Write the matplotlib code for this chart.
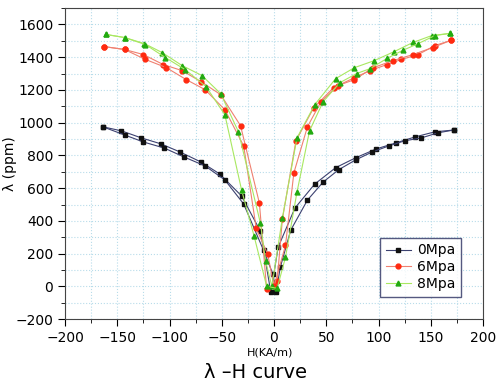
import matplotlib
matplotlib.use("Agg")
import matplotlib.pyplot as plt
from matplotlib.ticker import MultipleLocator

# 0 MPa loop (two branches)
h0_a = [-164, -146, -127, -108, -90, -70, -52, -31, -13, -3, 4, 20, 39, 59, 78, 98, 117, 135, 154, 172]
l0_a = [975, 950, 907, 870, 821, 760, 687, 552, 337, -37, 240, 478, 625, 725, 785, 840, 877, 913, 944, 955]
h0_b = [-164, -143, -125, -105, -86, -66, -47, -29, -10, -1, 2, 6, 16, 32, 47, 62, 78, 94, 110, 125, 141, 157, 172]
l0_b = [975, 925, 882, 845, 790, 736, 650, 503, 220, 74, -37, 116, 343, 527, 637, 713, 772, 821, 858, 889, 907, 938, 955]

# 6 MPa loop
h6_a = [-163, -143, -125, -106, -88, -70, -51, -32, -14, -7, 3, 8, 21, 38, 57, 77, 92, 108, 122, 138, 154, 169]
l6_a = [1465, 1447, 1416, 1355, 1318, 1251, 1171, 981, 509, -18, 30, 410, 889, 1091, 1214, 1275, 1318, 1355, 1386, 1416, 1471, 1502]
h6_b = [-163, -143, -123, -103, -84, -66, -47, -29, -17, -6, 0, 11, 19, 32, 45, 61, 77, 95, 114, 133, 152, 169]
l6_b = [1465, 1447, 1386, 1336, 1263, 1202, 1079, 858, 355, 196, 0, 251, 693, 975, 1128, 1226, 1263, 1336, 1379, 1416, 1459, 1502]

# 8 MPa loop
h8_a = [-161, -143, -124, -107, -88, -69, -51, -34, -13, -8, -2, 8, 22, 39, 59, 77, 96, 115, 133, 151, 168]
l8_a = [1539, 1520, 1483, 1428, 1349, 1288, 1177, 944, 386, 153, 0, 417, 907, 1110, 1269, 1336, 1379, 1434, 1490, 1532, 1545]
h8_b = [-161, -143, -123, -104, -85, -65, -47, -31, -19, -7, 3, 11, 22, 34, 47, 63, 79, 92, 108, 123, 138, 154, 168]
l8_b = [1539, 1520, 1477, 1398, 1324, 1220, 1048, 588, 306, 0, -12, 178, 576, 950, 1128, 1244, 1300, 1330, 1392, 1441, 1483, 1532, 1545]

fig = plt.figure(figsize=(5, 3.84), dpi=100)
ax = fig.add_axes([0.13, 0.169, 0.836, 0.81])

series = [
    ("0Mpa", h0_a, l0_a, h0_b, l0_b, "#3c4170", "#111111", "s"),
    ("6Mpa", h6_a, l6_a, h6_b, l6_b, "#f08070", "#ff2a10", "o"),
    ("8Mpa", h8_a, l8_a, h8_b, l8_b, "#a8e860", "#22aa10", "^"),
]
for name, xa, ya, xb, yb, lc, mc, mk in series:
    ax.plot(xa, ya, color=lc, lw=0.8, marker=mk, ms=3.5, mfc=mc, mec=mc, label=name)
    ax.plot(xb, yb, color=lc, lw=0.8, marker=mk, ms=3.5, mfc=mc, mec=mc)

ax.set_xlim(-200, 200)
ax.set_ylim(-200, 1700)
ax.xaxis.set_major_locator(MultipleLocator(50))
ax.xaxis.set_minor_locator(MultipleLocator(25))
ax.yaxis.set_major_locator(MultipleLocator(200))
ax.yaxis.set_minor_locator(MultipleLocator(100))
ax.grid(True, which="both", color="#b8dcea", ls=":", lw=0.8)
ax.tick_params(which="both", direction="out", top=False, right=False, labelsize=10)
ax.tick_params(which="major", length=5)
ax.tick_params(which="minor", length=3)
for s in ax.spines.values():
    s.set_color("#444444")

ax.set_ylabel("λ (ppm)", fontsize=10)
ax.yaxis.set_label_coords(-0.115, 0.5)
fig.text(0.54, 0.075, "H(KA/m)", ha="center", fontsize=8)
fig.text(0.51, 0.015, "λ –H curve", ha="center", fontsize=14)

leg = ax.legend(loc="lower right", bbox_to_anchor=(0.965, 0.05), fontsize=10,
                fancybox=False, handlelength=1.8, handletextpad=0.5,
                borderpad=0.4, labelspacing=0.2)
leg.get_frame().set_edgecolor("#2a2f60")
leg.get_frame().set_linewidth(1.0)

fig.savefig("out.png", dpi=100)
